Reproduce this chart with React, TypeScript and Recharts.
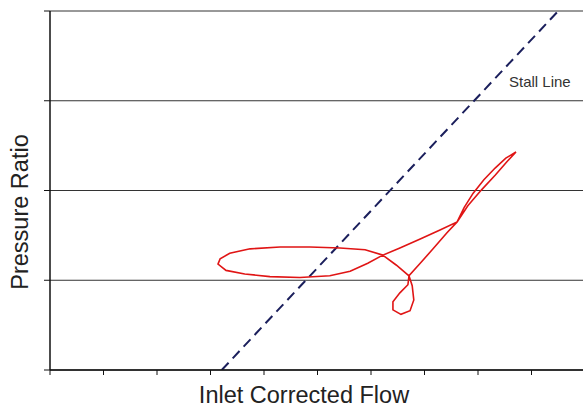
import { CartesianGrid, Line, LineChart, XAxis, YAxis } from "recharts";

// Surge cycle traced through flow / pressure-ratio space (arbitrary units)
const flowValues = [
  8.71, 8.52, 8.32, 8.11, 7.91, 7.74, 7.61, 7.29, 6.92, 6.54, 6.22, 5.89, 5.42,
  4.86, 4.3, 3.74, 3.36, 3.18, 3.14, 3.29, 3.64, 4.11, 4.67, 5.23, 5.61, 5.94,
  6.22, 6.47, 6.71, 6.69, 6.54, 6.41, 6.41, 6.56, 6.73, 6.8, 6.77, 6.71, 6.92,
  7.16, 7.42, 7.61, 7.81, 8.07, 8.32, 8.54, 8.71,
];
const pressureValues = [
  2.43, 2.36, 2.25, 2.12, 1.97, 1.81, 1.65, 1.56, 1.46, 1.36, 1.28, 1.34, 1.36,
  1.37, 1.37, 1.35, 1.3, 1.24, 1.18, 1.11, 1.07, 1.04, 1.03, 1.05, 1.1, 1.19,
  1.28, 1.17, 1.05, 0.95, 0.86, 0.76, 0.67, 0.62, 0.66, 0.78, 0.94, 1.05, 1.19,
  1.35, 1.53, 1.65, 1.83, 2.01, 2.17, 2.32, 2.43,
];

// Stall line end points
const stallFlow = [3.21, 9.5];
const stallPressure = [0, 4];

const flowTicks = [0, 1, 2, 3, 4, 5, 6, 7, 8, 9, 10];
const pressureTicks = [0, 1, 2, 3, 4];

const surgeData = flowValues.map((x, i) => ({ x, y: pressureValues[i] }));
const stallData = stallFlow.map((x, i) => ({ x, y: stallPressure[i] }));

const font = "Arial, 'Liberation Sans', sans-serif";

export default function App() {
  return (
    <div
      style={{
        position: "absolute",
        left: 0,
        top: 0,
        width: 583,
        height: 407,
        overflow: "hidden",
        background: "#fff",
        fontFamily: font,
      }}
    >
      <LineChart
        width={600}
        height={407}
        margin={{ top: 11, right: 15, bottom: 0, left: 0 }}
      >
        <CartesianGrid vertical={false} stroke="#333" />
        <XAxis
          type="number"
          dataKey="x"
          domain={[0, 10]}
          ticks={flowTicks}
          height={37}
          tickSize={5}
          tickFormatter={() => ""}
          axisLine={{ stroke: "#111", strokeWidth: 1.5 }}
          tickLine={{ stroke: "#111" }}
          allowDataOverflow
        />
        <YAxis
          type="number"
          dataKey="y"
          domain={[0, 4]}
          ticks={pressureTicks}
          width={50}
          tickSize={6}
          tickFormatter={() => ""}
          axisLine={{ stroke: "#111", strokeWidth: 1.5 }}
          tickLine={{ stroke: "#111" }}
          allowDataOverflow
        />
        <Line
          data={stallData}
          dataKey="y"
          type="linear"
          stroke="#1b1f5c"
          strokeWidth={2}
          strokeDasharray="10 6"
          dot={false}
          isAnimationActive={false}
        />
        <Line
          data={surgeData}
          dataKey="y"
          type="linear"
          stroke="#e01515"
          strokeWidth={1.6}
          dot={false}
          isAnimationActive={false}
        />
      </LineChart>

      <div
        style={{
          position: "absolute",
          left: 509,
          top: 74,
          fontSize: 15,
          lineHeight: 1,
          color: "#333",
          whiteSpace: "nowrap",
        }}
      >
        Stall Line
      </div>
      <div
        style={{
          position: "absolute",
          left: 304,
          top: 384,
          transform: "translateX(-50%)",
          fontSize: 23.5,
          lineHeight: 1,
          color: "#222",
          whiteSpace: "nowrap",
        }}
      >
        Inlet Corrected Flow
      </div>
      <div
        style={{
          position: "absolute",
          left: 21,
          top: 212,
          transform: "translate(-50%, -50%) rotate(-90deg)",
          fontSize: 23.5,
          lineHeight: 1,
          color: "#222",
          whiteSpace: "nowrap",
        }}
      >
        Pressure Ratio
      </div>
    </div>
  );
}
